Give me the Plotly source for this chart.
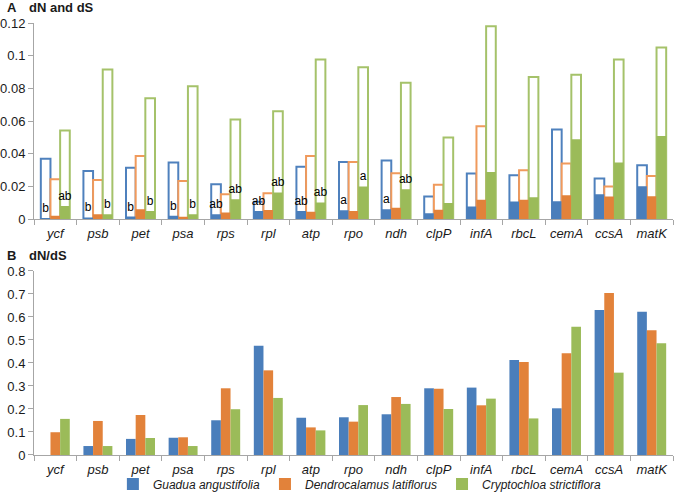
import plotly.graph_objects as go
from plotly.subplots import make_subplots

GENES = ["ycf", "psb", "pet", "psa", "rps", "rpl", "atp", "rpo", "ndh",
         "clpP", "infA", "rbcL", "cemA", "ccsA", "matK"]

SPECIES = ["Guadua angustifolia", "Dendrocalamus latiflorus", "Cryptochloa strictiflora"]

# Panel A: synonymous (dS, hollow) and non-synonymous (dN, filled) rates
DS_GUADUA = [0.037, 0.0295, 0.0315, 0.0346, 0.0213, 0.0106, 0.032, 0.035, 0.0358,
             0.0138, 0.0279, 0.0268, 0.0549, 0.0248, 0.0329]
DS_DENDRO = [0.0244, 0.024, 0.0386, 0.0234, 0.0152, 0.0159, 0.0386, 0.035, 0.028,
             0.021, 0.0569, 0.0299, 0.0341, 0.020, 0.0264]
DS_CRYPTO = [0.0543, 0.0915, 0.074, 0.0813, 0.061, 0.066, 0.0976, 0.0929, 0.0835,
             0.050, 0.118, 0.087, 0.0884, 0.0976, 0.105]

DN_GUADUA = [0.0003, 0.001, 0.0016, 0.002, 0.003, 0.005, 0.005, 0.0055, 0.006,
             0.0036, 0.0077, 0.0108, 0.011, 0.0152, 0.0201]
DN_DENDRO = [0.002, 0.003, 0.006, 0.0015, 0.004, 0.0056, 0.0045, 0.005, 0.007,
             0.0057, 0.0118, 0.0118, 0.0146, 0.0138, 0.014]
DN_CRYPTO = [0.0081, 0.003, 0.005, 0.003, 0.0122, 0.0163, 0.0102, 0.020, 0.0183,
             0.0098, 0.0289, 0.0134, 0.0488, 0.0346, 0.0508]

# significance letters above the dN bars
LETTERS_GUADUA = ["b", "b", "b", "b", "ab", "ab", "ab", "a", "a",
                  "", "", "", "", "", ""]
LETTERS_DENDRO = [""] * 15
LETTERS_CRYPTO = ["ab", "b", "b", "b", "ab", "ab", "ab", "a", "ab",
                  "", "", "", "", "", ""]

# Panel B: dN/dS
RATIO_GUADUA = [0, 0.039, 0.07, 0.075, 0.151, 0.475, 0.162, 0.164, 0.177,
                0.29, 0.293, 0.413, 0.203, 0.63, 0.623]
RATIO_DENDRO = [0.099, 0.148, 0.174, 0.077, 0.29, 0.368, 0.12, 0.145, 0.252,
                0.288, 0.216, 0.404, 0.442, 0.704, 0.542]
RATIO_CRYPTO = [0.157, 0.039, 0.074, 0.039, 0.199, 0.248, 0.107, 0.217, 0.222,
                0.2, 0.245, 0.159, 0.557, 0.358, 0.486]

FILL = ["#4A7EBB", "#E2823A", "#9BBB59"]
EDGE = ["#4F81BD", "#F09A5C", "#A5C26A"]
AXIS = "#A6A6A6"
TEXT = "#1A1A1A"
FONT = "Liberation Sans, Arial, sans-serif"

fig = make_subplots(rows=2, cols=1, vertical_spacing=0.12)

ds_sets = [DS_GUADUA, DS_DENDRO, DS_CRYPTO]
dn_sets = [DN_GUADUA, DN_DENDRO, DN_CRYPTO]
letter_sets = [LETTERS_GUADUA, LETTERS_DENDRO, LETTERS_CRYPTO]
ratio_sets = [RATIO_GUADUA, RATIO_DENDRO, RATIO_CRYPTO]

# hollow dS bars first, filled dN bars drawn over them in the same slot
for i, name in enumerate(SPECIES):
    fig.add_trace(go.Bar(
        x=GENES, y=ds_sets[i], offsetgroup=str(i),
        marker=dict(color="white", line=dict(color=EDGE[i], width=2)),
        showlegend=False, name=name,
    ), row=1, col=1)
for i, name in enumerate(SPECIES):
    fig.add_trace(go.Bar(
        x=GENES, y=dn_sets[i], offsetgroup=str(i),
        marker=dict(color=FILL[i], line=dict(width=0)),
        text=letter_sets[i], textposition="outside", constraintext="none",
        textfont=dict(size=12, color="#000000", family=FONT),
        cliponaxis=False, showlegend=False, name=name,
    ), row=1, col=1)

for i, name in enumerate(SPECIES):
    fig.add_trace(go.Bar(
        x=GENES, y=ratio_sets[i], offsetgroup=str(i),
        marker=dict(color=FILL[i], line=dict(width=0)),
        name=name,
    ), row=2, col=1)

xcommon = dict(
    showline=True, linecolor=AXIS, linewidth=1,
    ticks="outside", tickson="boundaries", ticklen=5, tickcolor=AXIS,
    tickfont=dict(size=13, color=TEXT, family=FONT, style="italic"),
    ticklabelstandoff=2, showgrid=False, zeroline=False, automargin=False,
)
ycommon = dict(
    showline=True, linecolor=AXIS, linewidth=1,
    ticks="outside", ticklen=5, tickcolor=AXIS,
    tickfont=dict(size=13, color=TEXT, family=FONT),
    showgrid=False, zeroline=False, automargin=False,
)

fig.update_xaxes(**xcommon)
fig.update_yaxes(**ycommon)
fig.update_yaxes(range=[0, 0.12], dtick=0.02, row=1, col=1)
fig.update_yaxes(range=[0, 0.8], dtick=0.1, row=2, col=1)

fig.update_layout(
    width=676, height=501,
    margin=dict(l=34, r=3, t=23, b=44),
    barmode="group", bargap=0.32, bargroupgap=0,
    paper_bgcolor="white", plot_bgcolor="white",
    font=dict(family=FONT, color=TEXT, size=13),
    xaxis=dict(domain=[0, 1]),
    yaxis=dict(domain=[0.546, 1.0]),
    xaxis2=dict(domain=[0, 1]),
    yaxis2=dict(domain=[0, 0.426]),
    showlegend=True,
    legend=dict(
        orientation="h", x=0.51, xanchor="center", y=-0.067, yanchor="middle",
        font=dict(size=12, color=TEXT, family=FONT, style="italic"),
        bgcolor="rgba(0,0,0,0)", traceorder="normal",
    ),
)

for label, title, ypos in [("A", "dN and dS", 1.037), ("B", "dN/dS", 0.462)]:
    fig.add_annotation(text=f"<b>{label}</b>", xref="paper", yref="paper",
                       x=-0.046, y=ypos, xanchor="left", yanchor="middle",
                       showarrow=False, font=dict(size=13, color=TEXT, family=FONT))
    fig.add_annotation(text=f"<b>{title}</b>", xref="paper", yref="paper",
                       x=-0.011, y=ypos, xanchor="left", yanchor="middle",
                       showarrow=False, font=dict(size=13, color=TEXT, family=FONT))

# drop the default 8px body margin so the figure sits at the page corner
fig.write_html("out.html", config={"displayModeBar": False},
               post_script="document.body.style.margin='0';")
